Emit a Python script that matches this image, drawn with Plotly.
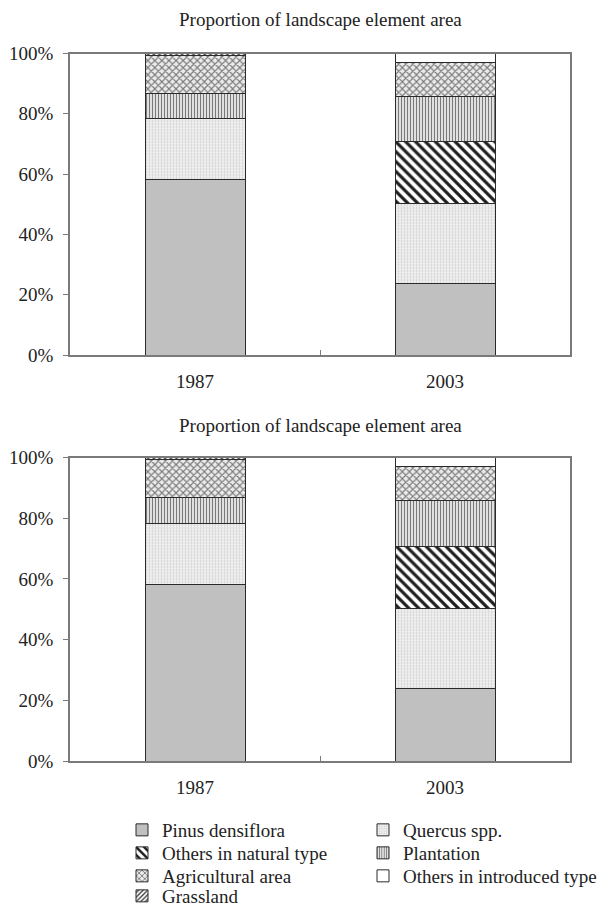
import plotly.graph_objects as go

# Landscape element shares (% of total area) per survey year
years = ["1987", "2003"]
pinus = [58.1, 23.8]
quercus = [20.3, 26.6]
others_natural = [None, 20.3]
plantation = [8.3, 15.1]
agricultural = [12.6, 11.1]
others_introduced = [None, 3.1]
grassland = [0.7, None]

y_ticks = [0, 20, 40, 60, 80, 100]
y_tick_labels = ["0%", "20%", "40%", "60%", "80%", "100%"]
title_text = "Proportion of landscape element area"

# name, values, fill pattern, legend row
series = [
    ("Pinus densiflora", pinus, dict(shape="", fgcolor="#c0c0c0", bgcolor="#c0c0c0"), "legend"),
    ("Quercus spp.", quercus, dict(shape=".", fgcolor="#cfcfcf", bgcolor="#f1f1f1", size=3, solidity=0.3), "legend"),
    ("Others in natural type", others_natural, dict(shape="\\", fgcolor="#1e1e1e", bgcolor="#ffffff", size=7, solidity=0.45), "legend2"),
    ("Plantation", plantation, dict(shape="|", fgcolor="#7a7a7a", bgcolor="#ececec", size=3, solidity=0.4), "legend2"),
    ("Agricultural area", agricultural, dict(shape="x", fgcolor="#7a7a7a", bgcolor="#ebebeb", size=5, solidity=0.4), "legend3"),
    ("Others in introduced type", others_introduced, dict(shape="", fgcolor="#ffffff", bgcolor="#ffffff"), "legend3"),
    ("Grassland", grassland, dict(shape="/", fgcolor="#333333", bgcolor="#ffffff", size=4, solidity=0.4), "legend4"),
]

fig = go.Figure()
for panel, (xa, ya) in enumerate([("x", "y"), ("x2", "y2")]):
    for name, vals, pat, leg in series:
        pattern = dict(pat)
        pattern["fillmode"] = "replace"
        fig.add_trace(go.Bar(
            x=years, y=vals, name=name, xaxis=xa, yaxis=ya,
            legend=leg, legendgroup=name, showlegend=(panel == 0),
            marker=dict(color=pattern["bgcolor"], pattern=pattern,
                        line=dict(color="#2a2a2a", width=1)),
            hoverinfo="name+y",
        ))

axis_font = dict(family="Liberation Serif", size=19, color="#222222")
xdom = [70 / 598, 570 / 598]
H = 908
top_dom = [1 - 355 / H, 1 - 53.5 / H]
bot_dom = [1 - 761 / H, 1 - 457.5 / H]

common_x = dict(domain=xdom, showline=True, mirror=True, linecolor="#7a7a7a", linewidth=1.5,
                ticks="inside", tickson="boundaries", ticklen=5, tickcolor="#7a7a7a",
                tickfont=axis_font, ticklabelstandoff=8, showgrid=False, fixedrange=True,
                automargin=False)
common_y = dict(range=[0, 100], tickmode="array", tickvals=y_ticks, ticktext=y_tick_labels,
                showline=True, mirror=True, linecolor="#7a7a7a", linewidth=1.5,
                ticks="outside", ticklen=5, tickcolor="#7a7a7a", tickfont=axis_font,
                ticklabelstandoff=6, showgrid=False, zeroline=False, fixedrange=True,
                automargin=False)

title_font = dict(family="Liberation Serif", size=19, color="#222222")
legend_font = dict(family="Liberation Serif", size=19, color="#222222")


def legend_row(y_px):
    return dict(orientation="h", x=122 / 598, xanchor="left", y=1 - y_px / H, yanchor="middle",
                font=legend_font, entrywidth=196, entrywidthmode="pixels",
                traceorder="normal", bgcolor="rgba(0,0,0,0)")


fig.update_layout(
    width=598, height=908,
    margin=dict(l=0, r=0, t=0, b=0, autoexpand=False),
    paper_bgcolor="white", plot_bgcolor="white",
    barmode="stack", bargap=0.6,
    xaxis=dict(common_x, anchor="y"),
    yaxis=dict(common_y, domain=top_dom, anchor="x"),
    xaxis2=dict(common_x, anchor="y2"),
    yaxis2=dict(common_y, domain=bot_dom, anchor="x2"),
    font=dict(family="Liberation Serif", color="#222222"),
    legend=legend_row(830),
    legend2=legend_row(853),
    legend3=legend_row(876),
    legend4=legend_row(896),
    annotations=[
        dict(text=title_text, x=320 / 598, y=1 - 20 / H, xref="paper", yref="paper",
             xanchor="center", yanchor="middle", showarrow=False, font=title_font),
        dict(text=title_text, x=320 / 598, y=1 - 425 / H, xref="paper", yref="paper",
             xanchor="center", yanchor="middle", showarrow=False, font=title_font),
    ],
)

fig.write_html("out.html")
